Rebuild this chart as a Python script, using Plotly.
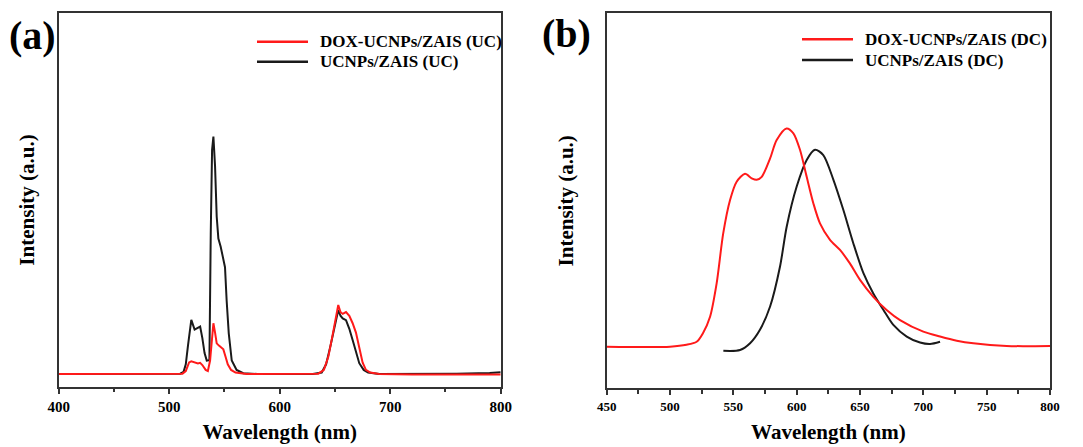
import plotly.graph_objects as go

# ---------------- Panel (a): upconversion spectra ----------------
a_black_x = [400, 450, 500, 510, 513, 515, 517, 520, 523, 526, 528, 530, 532, 534, 536.4,
             537.6, 538.8, 540, 541.5, 543, 544.5, 546.6, 548.4, 550.5, 552, 553.9, 556.6,
             561, 567, 580, 600, 630, 638, 642, 646, 650, 653, 655, 657, 660, 663, 666, 669,
             672, 676, 680, 690, 720, 760, 790, 800]
a_black_y = [3.4, 3.4, 3.4, 3.5, 4.0, 6.0, 11.0, 17.9, 15.3, 15.8, 16.1, 13.0, 9.0, 7.0, 7.1,
             41.0, 63.4, 67.0, 59.0, 45.5, 39.7, 37.5, 34.8, 32.0, 23.0, 14.3, 7.0,
             4.5, 3.6, 3.4, 3.4, 3.4, 3.8, 6.0, 11.0, 17.0, 20.5, 19.0, 18.3, 17.8, 15.5, 12.5, 9.0,
             6.3, 4.5, 3.8, 3.4, 3.4, 3.5, 3.7, 3.9]

a_red_x = [400, 500, 512, 515, 518, 520, 523, 526, 528, 530, 533, 535, 537, 538.5, 540, 541.5,
           543, 545, 547, 549, 551, 553, 556, 560, 570, 600, 635, 640, 644, 648, 651, 653, 655,
           657, 660, 663, 666, 669, 672, 675, 678, 682, 690, 720, 800]
a_red_y = [3.4, 3.4, 3.5, 4.2, 6.5, 6.8, 6.4, 6.2, 6.4, 5.8, 4.5, 4.2, 7.0, 13.0, 17.0, 14.5,
           11.6, 11.0, 10.6, 10.0, 8.0, 6.0, 4.5, 3.8, 3.4, 3.4, 3.5, 4.5, 8.0, 14.0, 19.0, 21.9, 20.0,
           19.5, 20.0, 19.0, 17.0, 14.5, 10.5, 6.5, 4.5, 3.8, 3.4, 3.3, 3.3]

# ---------------- Panel (b): downconversion spectra ----------------
b_red_x = [450, 480, 500, 513, 521, 526, 531.6, 536.8, 542, 547.4, 552.6, 559.2, 564.5, 568.4,
           572.4, 579, 584.2, 592, 597.4, 602.6, 607.9, 613.2, 618.4, 626.3, 634.2, 642, 650,
           660.5, 671, 681.6, 700, 713.2, 726.4, 739.5, 765.8, 800]
b_red_y = [11.1, 11.0, 11.1, 11.6, 12.4, 14.7, 19.1, 28.0, 41.3, 50.2, 55.1, 57.2, 56.0, 55.6,
           56.4, 61.3, 66.2, 69.3, 68.0, 63.6, 56.4, 49.3, 44.0, 39.6, 36.9, 33.3, 28.9,
           24.4, 20.9, 18.2, 15.1, 13.8, 12.7, 12.0, 11.3, 11.3]

b_black_x = [542.1, 555.3, 563.2, 571, 579, 586.8, 592.1, 600, 607.9, 614.5, 621, 629, 636.8,
             644.7, 652.7, 660.5, 668.5, 676.3, 686.9, 697.4, 705.3, 713.2]
b_black_y = [10.0, 10.2, 12.0, 15.6, 21.8, 32.4, 43.1, 53.8, 60.9, 63.6, 62.2, 55.6, 47.6,
             38.7, 30.7, 25.3, 20.9, 16.9, 13.8, 12.2, 11.8, 12.4]

a_ticks = [400, 500, 600, 700, 800]
b_ticks = [450, 500, 550, 600, 650, 700, 750, 800]

a_names = ["DOX-UCNPs/ZAIS (UC)", "UCNPs/ZAIS (UC)"]
b_names = ["DOX-UCNPs/ZAIS (DC)", "UCNPs/ZAIS (DC)"]

RED = "#ff1a1a"
BLACK = "#1a1a1a"
FONT = "Liberation Serif"
OFF = 8                      # page body margin of the browser
W, H = 1083 - OFF, 447 - OFF

fig = go.Figure()

fig.add_trace(go.Scatter(x=a_black_x, y=a_black_y, mode="lines", name=a_names[1],
                         line=dict(color=BLACK, width=2), xaxis="x", yaxis="y"))
fig.add_trace(go.Scatter(x=a_red_x, y=a_red_y, mode="lines", name=a_names[0],
                         line=dict(color=RED, width=2), xaxis="x", yaxis="y"))
fig.add_trace(go.Scatter(x=b_black_x, y=b_black_y, mode="lines", name=b_names[1],
                         line=dict(color=BLACK, width=2, shape="spline", smoothing=0.8),
                         xaxis="x2", yaxis="y2"))
fig.add_trace(go.Scatter(x=b_red_x, y=b_red_y, mode="lines", name=b_names[0],
                         line=dict(color=RED, width=2, shape="spline", smoothing=0.8),
                         xaxis="x2", yaxis="y2"))


def px_x(p):
    return (p - OFF) / W


def px_y(p):
    return 1 - (p - OFF) / H


axis_common = dict(showline=True, linecolor="#333333", linewidth=1.5, mirror=True,
                   showgrid=False, zeroline=False, automargin=False)
title_font = dict(family=FONT, size=21, color="black", weight="bold")

# manual legends (tight row spacing as in the reference)
shapes = []
annotations = []
legend_specs = [
    (a_names, [RED, BLACK], 257, 308, 318, [41.7, 61.7]),
    (b_names, [RED, BLACK], 802, 853, 863, [39.3, 60.0]),
]
for names, colors, x0, x1, xt, ys in legend_specs:
    for name, col, yy in zip(names, colors, ys):
        shapes.append(dict(type="line", xref="paper", yref="paper",
                           x0=px_x(x0), x1=px_x(x1), y0=px_y(yy), y1=px_y(yy),
                           line=dict(color=col, width=2.5)))
        annotations.append(dict(text=name, x=px_x(xt), y=px_y(yy), xref="paper", yref="paper",
                                xanchor="left", yanchor="middle", showarrow=False,
                                font=dict(family=FONT, size=17, color="black", weight="bold")))

annotations += [
    dict(text="(a)", x=px_x(32), y=px_y(35), xref="paper", yref="paper",
         xanchor="center", yanchor="middle", showarrow=False,
         font=dict(family=FONT, size=40, color="black", weight="bold")),
    dict(text="(b)", x=px_x(566), y=px_y(33), xref="paper", yref="paper",
         xanchor="center", yanchor="middle", showarrow=False,
         font=dict(family=FONT, size=40, color="black", weight="bold")),
]

fig.update_layout(
    width=W, height=H,
    margin=dict(l=0, r=0, t=0, b=0, autoexpand=False),
    paper_bgcolor="white", plot_bgcolor="white",
    showlegend=False,
    xaxis=dict(domain=[px_x(58.7), px_x(500.7)], range=[400, 800], anchor="y",
               tickvals=a_ticks, ticks="outside", ticklen=6, tickwidth=1.5, tickcolor="#333333",
               minor=dict(dtick=50, tick0=400, ticks="outside", ticklen=4, tickwidth=1.5,
                          tickcolor="#333333"),
               tickfont=dict(family=FONT, size=15, color="black", weight="bold"),
               title=dict(text="Wavelength (nm)", standoff=10, font=title_font),
               **axis_common),
    yaxis=dict(domain=[px_y(386.7), px_y(13.3)], range=[0, 100], anchor="x",
               showticklabels=False, ticks="",
               title=dict(text="Intensity (a.u.)", standoff=17, font=title_font),
               **axis_common),
    xaxis2=dict(domain=[px_x(606.7), px_x(1050)], range=[450, 800], anchor="y2",
                tickvals=b_ticks, ticks="outside", ticklen=5, tickwidth=1.5, tickcolor="#333333",
                minor=dict(dtick=25, tick0=450, ticks="outside", ticklen=4, tickwidth=1.5,
                           tickcolor="#333333"),
                tickfont=dict(family=FONT, size=13, color="black", weight="bold"),
                title=dict(text="Wavelength (nm)", standoff=12, font=title_font),
                **axis_common),
    yaxis2=dict(domain=[px_y(388.3), px_y(13.3)], range=[0, 100], anchor="x2",
                showticklabels=False, ticks="",
                title=dict(text="Intensity (a.u.)", standoff=26, font=title_font),
                **axis_common),
    shapes=shapes,
    annotations=annotations,
)

fig.write_html("out.html")
